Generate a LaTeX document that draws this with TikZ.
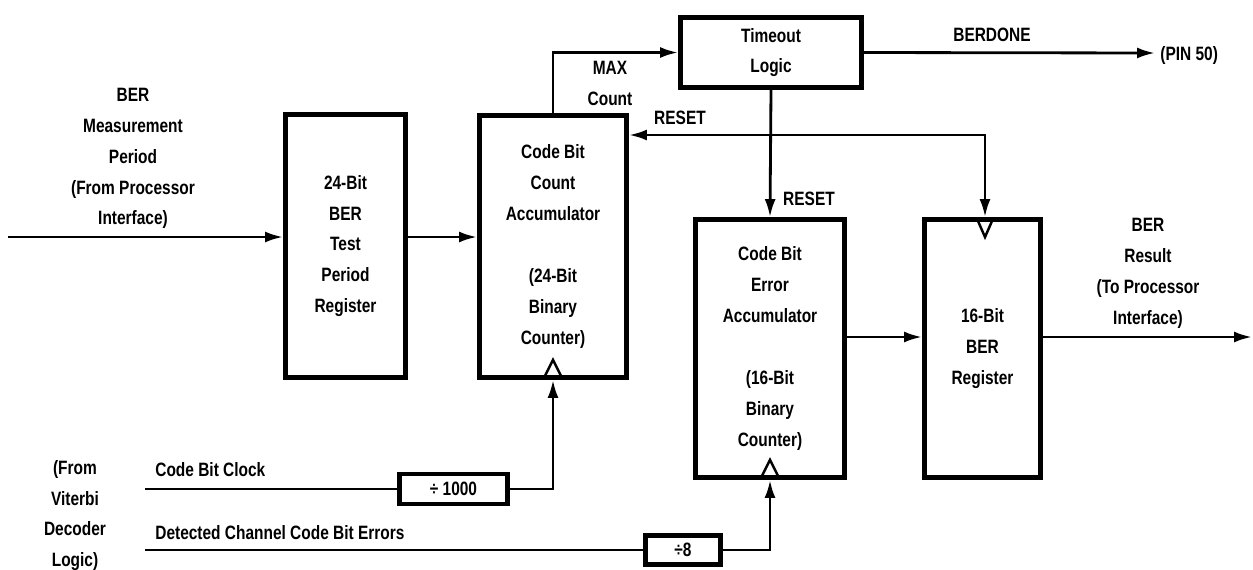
\documentclass[tikz,border=0pt]{standalone}
\usepackage{fontspec}
\setmainfont{Liberation Sans}[FakeStretch=0.8]
\usetikzlibrary{arrows.meta}

\tikzset{
  blk/.style={draw,line width=2.8pt,align=center,inner sep=0pt},
  lbl/.style={align=center,inner sep=0pt},
  sig/.style={line width=1.6pt},
  arr/.style={sig,-{Latex[length=3.6mm,width=2.2mm]}},
  clk/.style={line width=1.4pt,line join=miter}
}

\begin{document}
\begin{tikzpicture}[x=0.02cm,y=-0.02cm,font=\fontsize{11}{17.6}\selectfont\bfseries]
\useasboundingbox (0,0) rectangle (1253,569);

\node[blk,minimum width=2.4cm,minimum height=5.26cm] (reg) at (345.5,246) {24-Bit\\BER\\Test\\Period\\Register};
\node[blk,minimum width=2.94cm,minimum height=5.24cm] (cnt) at (553,246.5) {Code Bit\\Count\\Accumulator\\[17.6pt](24-Bit\\Binary\\Counter)};
\node[blk,minimum width=3.62cm,minimum height=1.4cm] (tmo) at (771,52.5) {Timeout\\Logic};
\node[blk,minimum width=2.98cm,minimum height=5.16cm] (err) at (770,348.5) {Code Bit\\Error\\Accumulator\\[17.6pt](16-Bit\\Binary\\Counter)};
\node[blk,minimum width=2.32cm,minimum height=5.16cm] (berreg) at (982.5,348.5) {16-Bit\\BER\\Register};
\node[blk,minimum width=2.16cm,minimum height=0.6cm] (div1k) at (453.5,489) {÷ 1000};
\node[blk,minimum width=1.5cm,minimum height=0.58cm] (div8) at (683,550) {÷8};

\node[lbl] (inlbl) at (133,158.5) {BER\\Measurement\\Period\\(From Processor\\Interface)};
\node[lbl] (maxlbl) at (610,83.5) {MAX\\Count};
\node[lbl] (rstlbl) at (680,118) {RESET};
\node[lbl] (rstlbl2) at (809,199) {RESET};
\node[lbl] (donelbl) at (992,35) {BERDONE};
\node[lbl,anchor=west] (pin) at (1160,55) {(PIN 50)};
\node[lbl] (outlbl) at (1148,273.5) {BER\\Result\\(To Processor\\Interface)};
\node[lbl] (vitlbl) at (75,515.5) {(From\\Viterbi\\Decoder\\Logic)};
\node[lbl,anchor=west] (clklbl) at (155,470) {Code Bit Clock};
\node[lbl,anchor=west] (errlbl) at (155,533) {Detected Channel Code Bit Errors};

\coordinate (in) at (8,237);
\coordinate (rst) at (985,135);
\coordinate (res) at (1252,337);
\coordinate (clkin) at (145,489);
\coordinate (errin) at (145,550);
\coordinate (pinend) at (1155,53);

\draw[arr] (in) -- (in -| reg.west);
\draw[arr] (reg.east |- in) -- (cnt.west |- in);
\draw[arr] (cnt.north) |- (tmo.west);
\draw[arr] (tmo.east) -- (pinend);
\draw[arr] (tmo.south) -- (err.north);
\draw[sig,{Latex[length=3.6mm,width=2.2mm]}-{Latex[length=3.6mm,width=2.2mm]}] (rst -| cnt.east) -- (rst) -- (rst |- berreg.north);
\draw[arr] (err.east |- res) -- (res -| berreg.west);
\draw[arr] (berreg.east |- res) -- (res);
\draw[sig] (clkin) -- (div1k.west);
\draw[arr] (div1k.east) -| (cnt.south);
\draw[sig] (errin) -- (div8.west);
\draw[arr] (div8.east) -| (err.south);

\draw[clk] ([shift={(-8,-4)}]cnt.south) -- ++(8,-16) -- ++(8,16);
\draw[clk] ([shift={(-8,-4)}]err.south) -- ++(8,-16) -- ++(8,16);
\draw[clk] ([shift={(-7,4)}]rst |- berreg.north) -- ++(7,16) -- ++(7,-16);
\end{tikzpicture}
\end{document}
